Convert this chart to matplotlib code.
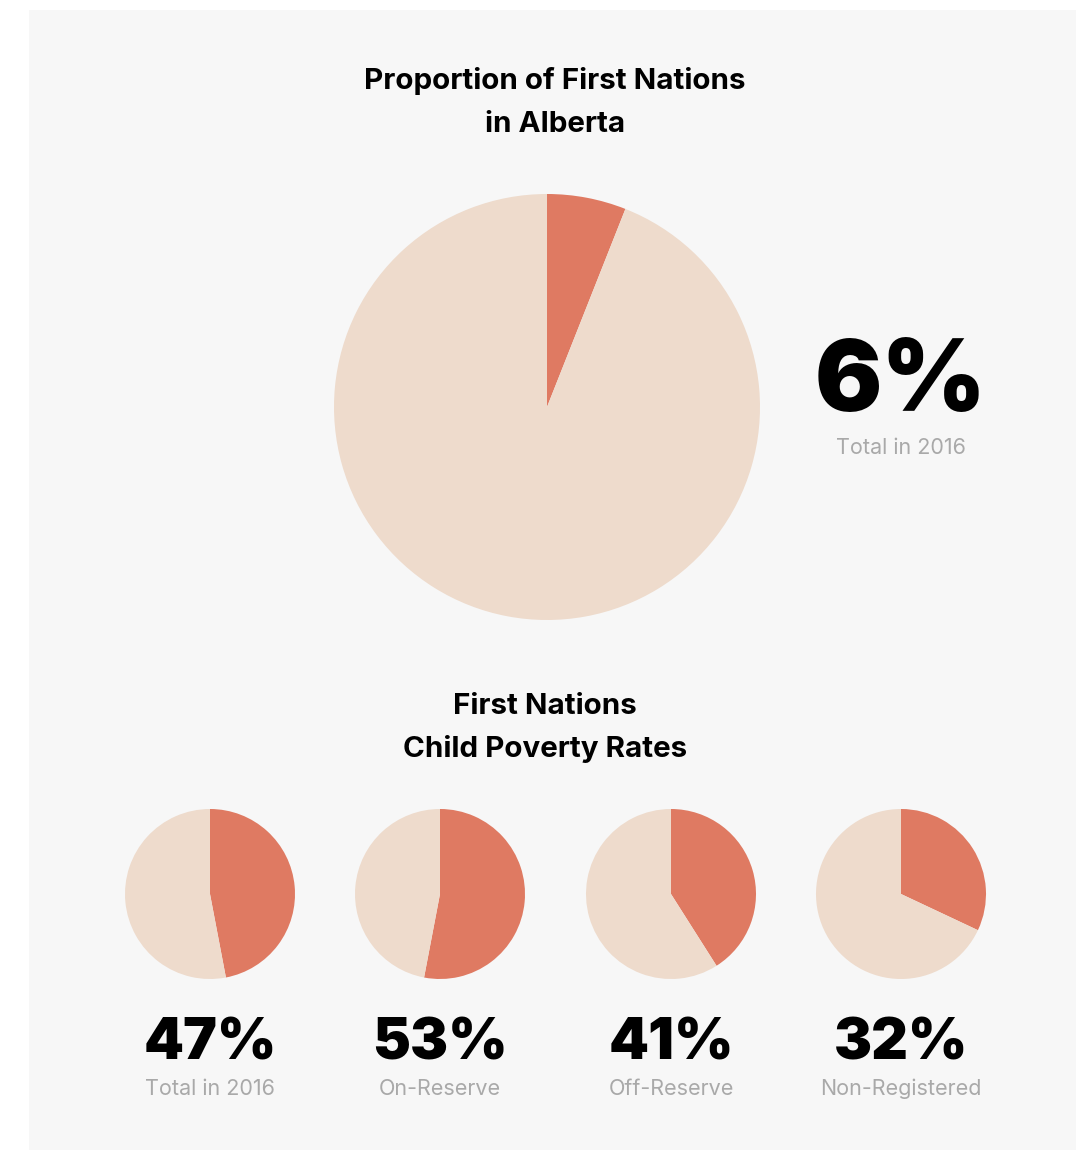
import matplotlib.pyplot as plt
from matplotlib.patches import Rectangle

# data
alberta_share = 6
poverty_labels = ["Total in 2016", "On-Reserve", "Off-Reserve", "Non-Registered"]
poverty_rates = [47, 53, 41, 32]

ORANGE = "#df7a62"
LIGHT = "#eedbcc"
GRAY = "#a9a9a9"
FONT = ["Inter", "Liberation Sans", "DejaVu Sans"]

W, H = 1091, 1152
fig = plt.figure(figsize=(W / 100, H / 100), dpi=100)
fig.patch.set_facecolor("white")

# light gray panel, kept behind the pie axes
fig.patches.append(Rectangle((29 / W, 1 - 1150 / H), (1076 - 29) / W, (1150 - 10) / H,
                             transform=fig.transFigure, facecolor="#f7f7f7",
                             edgecolor="none", zorder=-1))


def px(x, y):
    return x / W, 1 - y / H


def pie_at(cx, cy, r, value):
    ax = fig.add_axes([(cx - r) / W, 1 - (cy + r) / H, 2 * r / W, 2 * r / H])
    ax.pie([value, 100 - value], colors=[ORANGE, LIGHT], startangle=90,
           counterclock=False, radius=1, wedgeprops=dict(linewidth=0))
    ax.set_xlim(-1, 1)
    ax.set_ylim(-1, 1)
    ax.axis("off")
    return ax


# top section
fig.text(*px(555, 81), "Proportion of First Nations", ha="center", va="center",
         fontsize=21.3, fontweight="bold", family=FONT)
fig.text(*px(555, 124), "in Alberta", ha="center", va="center",
         fontsize=21.3, fontweight="bold", family=FONT)

pie_at(547, 407, 213, alberta_share)
fig.text(*px(901, 385), f"{alberta_share}%", ha="center", va="center",
         fontsize=72, fontweight="black", family=FONT)
fig.text(*px(901, 448), "Total in 2016", ha="center", va="center",
         fontsize=15.5, color=GRAY, family=FONT)

# bottom section
fig.text(*px(545, 707), "First Nations", ha="center", va="center",
         fontsize=21.3, fontweight="bold", family=FONT)
fig.text(*px(545, 749), "Child Poverty Rates", ha="center", va="center",
         fontsize=21.3, fontweight="bold", family=FONT)

centers = [210, 440, 671, 901]
for cx, rate, lab in zip(centers, poverty_rates, poverty_labels):
    pie_at(cx, 894, 85, rate)
    fig.text(*px(cx, 1045), f"{rate}%", ha="center", va="center",
             fontsize=41, fontweight="black", family=FONT)
    fig.text(*px(cx, 1089), lab, ha="center", va="center",
             fontsize=15.5, color=GRAY, family=FONT)

fig.savefig("out.png", dpi=100)
